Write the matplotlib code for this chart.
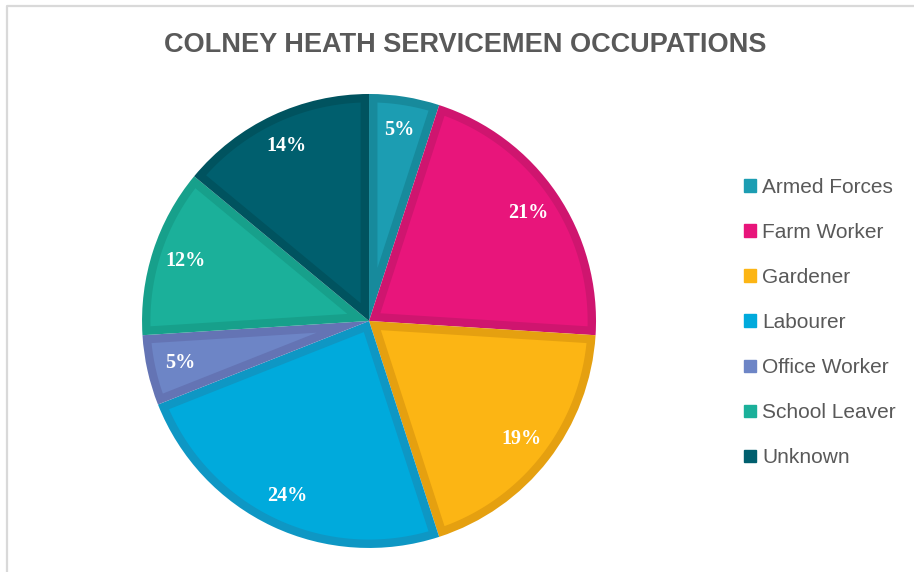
import matplotlib.pyplot as plt
from matplotlib.patches import Rectangle, Polygon
from matplotlib.lines import Line2D
import numpy as np

# data
occupations = ["Armed Forces", "Farm Worker", "Gardener", "Labourer",
               "Office Worker", "School Leaver", "Unknown"]
shares = [5, 21, 19, 24, 5, 12, 14]
fill_colors = ["#1c9db2", "#e8157b", "#fcb514", "#00aadc", "#6d85c6", "#1bb09a", "#005f6e"]
edge_colors = ["#178a9c", "#cf156f", "#e5a010", "#0e97c4", "#6474b4", "#17a08b", "#00535f"]

fig = plt.figure(figsize=(9.14, 5.72), dpi=100)
# chart-area frame, only top and left edges show in the crop
fig.lines.append(Line2D([0.0075, 0.0075, 1.0], [0.0, 0.9895, 0.9895], transform=fig.transFigure,
                        color="#d9d9d9", linewidth=1.6))

ax = fig.add_axes([0.1554, 0.042, 0.4967, 0.7937])
wedges, texts, autotexts = ax.pie(shares, colors=edge_colors, startangle=90, counterclock=False,
                                  autopct="%1.0f%%", pctdistance=0.85, radius=1,
                                  wedgeprops=dict(linewidth=0))

# lighter inner area, inset from each wedge's outline
border = 0.037
for w, fc in zip(wedges, fill_colors):
    t1, t2 = np.deg2rad(w.theta1), np.deg2rad(w.theta2)
    half = (t2 - t1) / 2
    rin = w.r - border
    da = np.arcsin(border / rin)
    arc = np.linspace(t1 + da, t2 - da, 100)
    mid = t1 + half
    apex = border / np.sin(half)
    xs = np.concatenate([[apex * np.cos(mid)], rin * np.cos(arc)])
    ys = np.concatenate([[apex * np.sin(mid)], rin * np.sin(arc)])
    ax.add_patch(Polygon(np.column_stack([xs, ys]), closed=True, facecolor=fc,
                         edgecolor="none", zorder=w.get_zorder() + 0.1))

for t in autotexts:
    t.set_color("white")
    t.set_fontsize(14.5)
    t.set_fontweight("bold")
    t.set_family(["Liberation Serif", "DejaVu Serif"])
    t.set_zorder(5)
ax.set_xlim(-1, 1)
ax.set_ylim(-1, 1)
ax.set_aspect("equal")

fig.text(0.509, 0.921, "COLNEY HEATH SERVICEMEN OCCUPATIONS", ha="center", va="center",
         fontsize=19.5, fontweight="bold", color="#595959",
         family=["Liberation Sans Narrow", "Liberation Sans"])

handles = [Rectangle((0, 0), 1, 1, facecolor=c, edgecolor=c) for c in fill_colors]
leg = fig.legend(handles, occupations, loc="center left", bbox_to_anchor=(0.794, 0.436),
                 frameon=False, handlelength=0.55, handleheight=0.55, handletextpad=0.3,
                 labelspacing=1.25, prop=dict(family="Liberation Sans", size=15))
for t in leg.get_texts():
    t.set_color("#595959")

fig.savefig("out.png", dpi=100)
